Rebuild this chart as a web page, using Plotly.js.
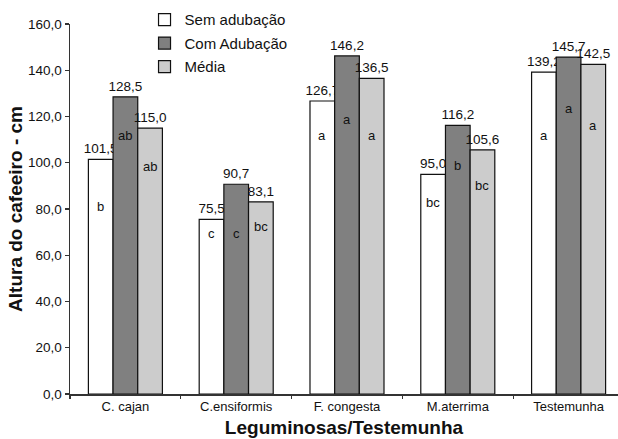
<!DOCTYPE html>
<html>
<head>
<meta charset="utf-8">
<script src="https://cdn.plot.ly/plotly-3.0.1.min.js"></script>
<style>html,body{margin:0;padding:0;background:#fff;overflow:hidden;}</style>
</head>
<body>
<div id="chart" style="width:618px;height:439px;"></div>
<script>
// ---- data ----
const categories = ["C. cajan", "C.ensiformis", "F. congesta", "M.aterrima", "Testemunha"];
const seriesNames = ["Sem adubação", "Com Adubação", "Média"];
const semAdubacao = [101.5, 75.5, 126.7, 95.0, 139.2];
const comAdubacao = [128.5, 90.7, 146.2, 116.2, 145.7];
const media       = [115.0, 83.1, 136.5, 105.6, 142.5];
const letrasSem   = ["b", "c", "a", "bc", "a"];
const letrasCom   = ["ab", "c", "a", "b", "a"];
const letrasMedia = ["ab", "bc", "a", "bc", "a"];
// heights (in cm on the y scale) at which the significance letters sit
const letraYSem   = [81.0, 69.2, 111.6, 82.7, 111.6];
const letraYCom   = [111.6, 69.2, 118.9, 98.7, 123.5];
const letraYMedia = [98.3, 72.6, 111.6, 90.1, 116.3];
const yTicks = [0, 20, 40, 60, 80, 100, 120, 140, 160];

// ---- styling ----
const colors = ["#ffffff", "#808080", "#cccccc"];
const values = [semAdubacao, comAdubacao, media];
const letters = [letrasSem, letrasCom, letrasMedia];
const letterY = [letraYSem, letraYCom, letraYMedia];
const bargap = 0.332;
const barW = (1 - bargap) / 3;
const font = "'Liberation Sans', Arial, sans-serif";

const traces = values.map((v, i) => ({
  type: "bar",
  name: seriesNames[i],
  x: categories,
  y: v,
  legendgroup: "g" + i,
  marker: {color: colors[i], line: {color: "#111", width: 1.2}},
  texttemplate: "%{y:.1f}",
  textposition: "outside",
  constraintext: "none",
  cliponaxis: false,
  textfont: {family: font, size: 13.5, color: "#111"},
  hoverinfo: "skip"
}));

const annotations = [];
letters.forEach((arr, s) => {
  arr.forEach((t, c) => {
    annotations.push({
      x: c + (s - 1) * barW, y: letterY[s][c], xref: "x", yref: "y",
      text: t, showarrow: false, yanchor: "middle", xanchor: "center",
      font: {family: font, size: 13, color: "#111"}
    });
  });
});

const layout = {
  width: 618, height: 439,
  margin: {l: 69.5, r: 0, t: 24, b: 45, pad: 0, autoexpand: false},
  paper_bgcolor: "#fff", plot_bgcolor: "#fff",
  barmode: "group", bargap: bargap, bargroupgap: 0,
  separators: ",.",
  showlegend: true,
  legend: {
    x: 0.136, xref: "paper", xanchor: "left",
    y: 1.056, yref: "paper", yanchor: "top",
    font: {family: font, size: 15, color: "#111"},
    bgcolor: "rgba(0,0,0,0)", traceorder: "grouped", tracegroupgap: 1,
    itemwidth: 30
  },
  xaxis: {
    type: "category",
    range: [-0.5, 4.5 - 6 / 110.9],
    showline: true, linecolor: "#333", linewidth: 1.5,
    ticks: "outside", ticklen: 3, tickcolor: "#333", tickwidth: 1.2,
    tickson: "boundaries", tickangle: 0,
    showgrid: false, zeroline: false,
    tickfont: {family: font, size: 13, color: "#111"},
    title: {text: "<b>Leguminosas/Testemunha</b>", font: {family: font, size: 19, color: "#111"}, standoff: 7}
  },
  yaxis: {
    range: [0, 160],
    tickvals: yTicks, tickformat: ".1f",
    showline: true, linecolor: "#333", linewidth: 1.5,
    ticks: "outside", ticklen: 4, tickcolor: "#333", tickwidth: 1.2,
    showgrid: false, zeroline: false,
    tickfont: {family: font, size: 13.5, color: "#111"},
    title: {text: "<b>Altura do cafeeiro - cm</b>", font: {family: font, size: 19, color: "#111"}, standoff: 0}
  },
  annotations: annotations
};

Plotly.newPlot("chart", traces, layout, {displayModeBar: false, staticPlot: true});
</script>
</body>
</html>
